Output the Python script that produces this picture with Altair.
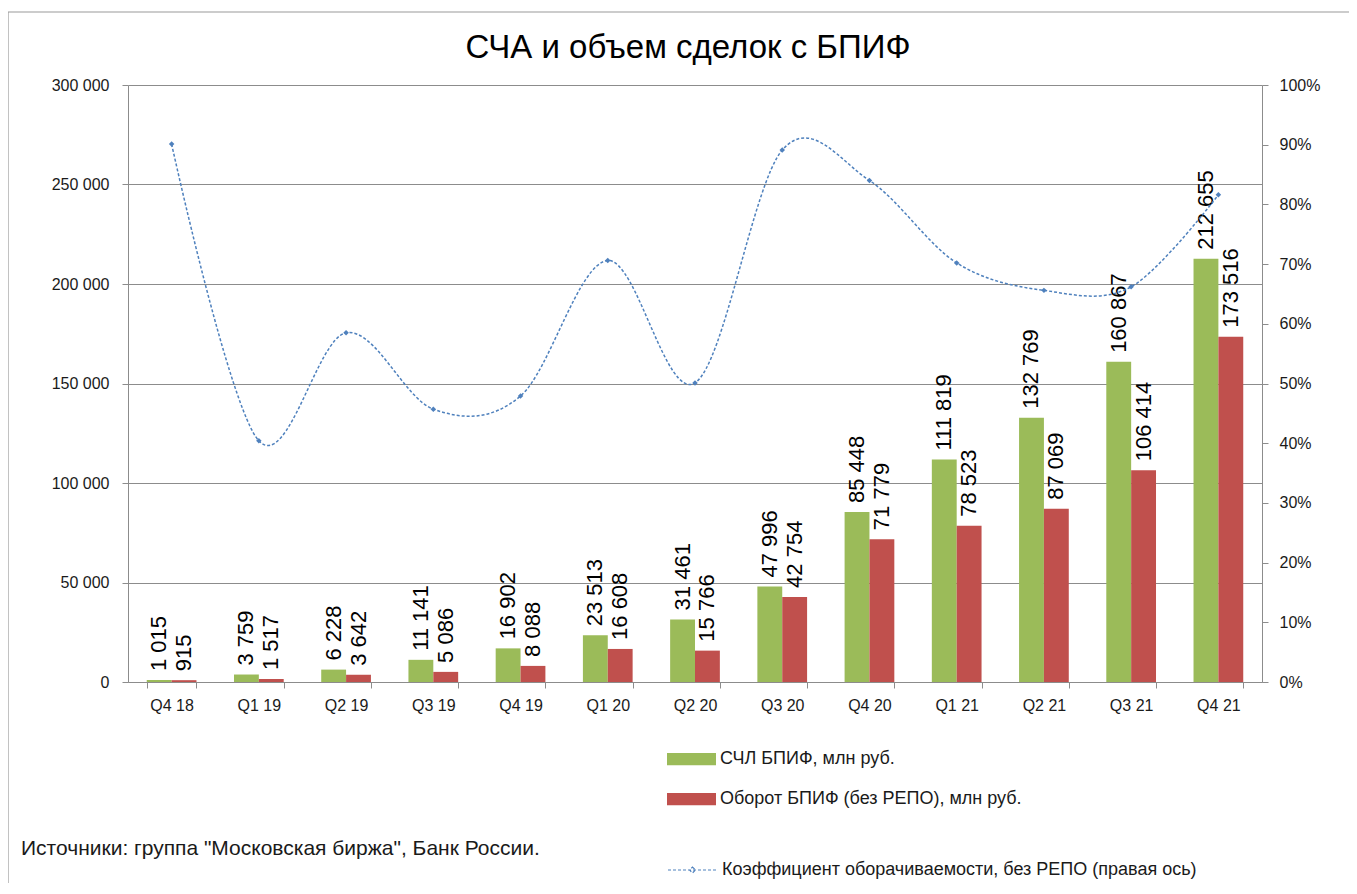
import altair as alt
import pandas as pd

quarters = ["Q4 18", "Q1 19", "Q2 19", "Q3 19", "Q4 19", "Q1 20", "Q2 20",
            "Q3 20", "Q4 20", "Q1 21", "Q2 21", "Q3 21", "Q4 21"]
nav = [1015, 3759, 6228, 11141, 16902, 23513, 31461, 47996, 85448,
       111819, 132769, 160867, 212655]
turnover = [915, 1517, 3642, 5086, 8088, 16608, 15766, 42754, 71779,
            78523, 87069, 106414, 173516]
ratio = [90.1, 40.4, 58.5, 45.7, 47.9, 70.6, 50.1, 89.1, 84.0,
         70.2, 65.6, 66.2, 81.6]

NAV_NAME = "СЧЛ БПИФ, млн руб."
TURN_NAME = "Оборот БПИФ (без РЕПО), млн руб."
LINE_NAME = "Коэффициент оборачиваемости, без РЕПО (правая ось)"
TITLE = "СЧА и объем сделок с БПИФ"
SOURCE = 'Источники: группа "Московская биржа", Банк России.'

GREEN = "#9BBB59"
RED = "#C0504D"
BLUE = "#4F81BD"
GRID = "#8c8c8c"
FONT = "Liberation Sans"
TXT = "#1a1a1a"


def fmt(v):
    return f"{v:,}".replace(",", " ")


rows = []
for q, a, b in zip(quarters, nav, turnover):
    rows.append({"q": q, "series": NAV_NAME, "value": a, "label": fmt(a)})
    rows.append({"q": q, "series": TURN_NAME, "value": b, "label": fmt(b)})
bars_df = pd.DataFrame(rows)
line_df = pd.DataFrame({"q": quarters, "ratio": ratio, "name": [LINE_NAME] * len(quarters)})
one_df = pd.DataFrame({"t": [SOURCE]})

x_enc = alt.X(
    "q:N", sort=quarters,
    scale=alt.Scale(paddingInner=0.43, paddingOuter=0.215),
    axis=alt.Axis(title=None, labelAngle=0, tickBand="extent", labelPadding=9,
                  grid=False, domainColor=GRID, tickColor=GRID),
)
xoff = alt.XOffset("series:N", sort=[NAV_NAME, TURN_NAME], scale=alt.Scale(paddingInner=0, paddingOuter=0))

y_left = alt.Y(
    "value:Q", scale=alt.Scale(domain=[0, 300000]),
    axis=alt.Axis(title=None, values=list(range(0, 300001, 50000)),
                  labelExpr="replace(format(datum.value, ','), ',', ' ')",
                  grid=True, gridColor=GRID, labelPadding=13, labelFlush=False,
                  domainColor=GRID, tickColor=GRID),
)

bars = alt.Chart(bars_df).mark_bar().encode(
    x=x_enc, xOffset=xoff, y=y_left,
    color=alt.Color("series:N",
                    scale=alt.Scale(domain=[NAV_NAME, TURN_NAME], range=[GREEN, RED]),
                    legend=alt.Legend(title=None, orient="none", legendX=539, legendY=649.5,
                                      symbolType="M-1,-0.25H1V0.25H-1Z", symbolSize=2401,
                                      symbolStrokeWidth=0, rowPadding=6, labelOffset=4,
                                      labelFont=FONT, labelFontSize=18, labelColor=TXT,
                                      labelLimit=0, direction="vertical", padding=0)),
)

labels = alt.Chart(bars_df).mark_text(
    angle=270, align="left", baseline="middle", dx=9, font=FONT, fontSize=22, color="#000000"
).encode(x=x_enc, xOffset=xoff, y=y_left, text="label:N")

y_right = alt.Y(
    "ratio:Q", scale=alt.Scale(domain=[0, 100]),
    axis=alt.Axis(title=None, orient="right", values=list(range(0, 101, 10)),
                  labelExpr="datum.value + '%'", grid=False, labelPadding=11,
                  labelFlush=False, domainColor=GRID, tickColor=GRID),
)

line = alt.Chart(line_df).mark_line(
    interpolate="cardinal", strokeDash=[3, 2], strokeWidth=1.5
).encode(
    x=x_enc, y=y_right,
    stroke=alt.Stroke("name:N", scale=alt.Scale(range=[BLUE]),
                      legend=alt.Legend(title=None, orient="none", legendX=539, legendY=759.5,
                                        symbolType="M-1,0H1M0,-0.12L0.12,0L0,0.12L-0.12,0Z",
                                        symbolSize=2401, symbolStrokeWidth=1.2,
                                        symbolDash=[3, 2], labelOffset=4,
                                        labelFont=FONT, labelFontSize=18, labelColor=TXT,
                                        labelLimit=0, padding=0)),
)
points = alt.Chart(line_df).mark_point(
    shape="diamond", filled=True, size=30, color=BLUE, opacity=1
).encode(x=x_enc, y=y_right)

source = alt.Chart(one_df).mark_text(
    align="left", baseline="middle", font=FONT, fontSize=21, color=TXT
).encode(text="t:N", x=alt.value(-107), y=alt.value(764))

frame = alt.Chart(one_df).mark_rect(
    fillOpacity=0, stroke="#9a9a9a", strokeWidth=1.2
).encode(x=alt.value(-120), x2=alt.value(1500), y=alt.value(-73), y2=alt.value(1000))

left = alt.layer(bars, labels)
right = alt.layer(line, points)

chart = alt.layer(frame, left, right, source).resolve_scale(
    y="independent"
).properties(
    width=1134, height=597,
    title=alt.TitleParams(TITLE, font=FONT, fontSize=33, fontWeight="normal",
                          color="#000000", anchor="middle", frame="group",
                          dx=-7, offset=-54),
    autosize=alt.AutoSizeParams(type="none"),
    padding={"left": 120, "top": 77, "right": 87, "bottom": 201},
).configure_view(stroke=None).configure_axis(
    labelFont=FONT, labelFontSize=16, labelColor=TXT, tickSize=6,
    domainWidth=1, tickWidth=1, gridWidth=1,
)

chart.save("out.html", embed_options={"renderer": "svg", "actions": False})
